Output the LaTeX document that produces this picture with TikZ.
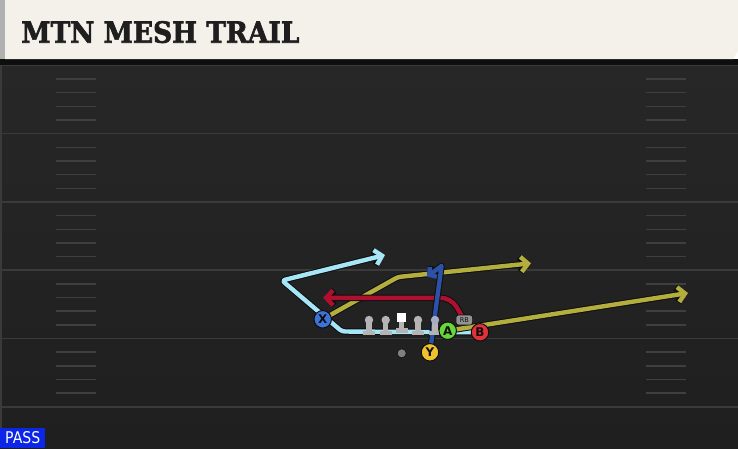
\documentclass[tikz,border=0pt]{standalone}
\usepackage{fontspec}
\usepackage{graphicx}
\usetikzlibrary{arrows.meta}
\newfontfamily\titlefont{DejaVu Serif Bold}[FakeBold=2.2]
\newfontfamily\lblfont{DejaVu Sans}
\definecolor{cream}{HTML}{F4F1EA}
\definecolor{fieldtop}{HTML}{272727}
\definecolor{fieldbot}{HTML}{1F1F1F}
\definecolor{yardc}{HTML}{3A3A3A}
\definecolor{hashc}{HTML}{3F3F3F}
\definecolor{ltblue}{HTML}{A6E6F7}
\definecolor{olive}{HTML}{B3AE3E}
\definecolor{crim}{HTML}{AE1030}
\definecolor{rblue}{HTML}{2C52A8}
\definecolor{outl}{HTML}{0E0E0E}
\definecolor{xblue}{HTML}{3D72D9}
\definecolor{agreen}{HTML}{66D63A}
\definecolor{bred}{HTML}{E23238}
\definecolor{yyel}{HTML}{EFC12A}
\definecolor{lgrey}{HTML}{B4B4B4}
\definecolor{hdrgrey}{HTML}{B0B0B0}
\definecolor{passblue}{HTML}{0B26E6}
\definecolor{titlec}{HTML}{1E1E1E}
\tikzset{
  routeout/.style={draw=outl, line width=6.4pt, line join=round, line cap=round},
  routein/.style={line width=4.4pt, line join=round, line cap=round},
  tipped/.style={-{Straight Barb[length=7pt,width=15pt]}},
  player/.style={circle, draw=outl, line width=1pt, minimum size=17.5pt, inner sep=0pt,
    font=\lblfont\bfseries\fontsize{12}{12}\selectfont, text=outl},
}
\begin{document}
\begin{tikzpicture}[x=1pt,y=-1pt]
\useasboundingbox (0,0) rectangle (738,448);
% field
\shade[top color=fieldtop, bottom color=fieldbot] (0,64) rectangle (738,448);
\fill[yardc] (0,64) rectangle (2,448);
\foreach \k in {0,...,5} {
  \draw[yardc, line width=1.6pt] (2,{65.3+68.3*\k}) -- (738,{65.3+68.3*\k});
}
\foreach \k in {0,...,4} {
  \foreach \j in {1,...,4} {
    \draw[hashc, line width=1.4pt] (56,{65.3+68.3*\k+13.66*\j}) -- (96,{65.3+68.3*\k+13.66*\j});
    \draw[hashc, line width=1.4pt] (646,{65.3+68.3*\k+13.66*\j}) -- (686,{65.3+68.3*\k+13.66*\j});
  }
}
% header
\fill[outl] (0,59) rectangle (738,64.5);
\fill[hdrgrey] (0,0) rectangle (5,59);
\fill[cream] (5,0) -- (738,0) -- (738,51) -- (733,59) -- (5,59) -- cycle;
\node[anchor=south west, inner sep=0pt, text=titlec] (title) at (21.2,43.3)
  {\resizebox{278pt}{21.6pt}{\titlefont MTN MESH TRAIL}};
% player positions
\coordinate (pX) at (322.7,319.3);
\coordinate (pA) at (447.7,330.7);
\coordinate (pB) at (480,332.3);
\coordinate (pY) at (430,352.3);
\coordinate (pRB) at (464.3,320);
% route waypoints
\coordinate (lb1) at (342,331.5);
\coordinate (lb2) at (282,280.5);
\coordinate (lbEnd) at (385,255);
\coordinate (ol1) at (398,277);
\coordinate (olEnd) at (531,263.3);
\coordinate (olBEnd) at (688,293);
\coordinate (rd1) at (451,297.8);
\coordinate (rdEnd) at (323,297.8);
\coordinate (bl1) at (441.5,266);
\coordinate (blEnd) at (427,276.5);
% light blue route
\draw[routeout, tipped, rounded corners=3pt] (pB) -- (lb1) -- (lb2) -- (lbEnd);
\draw[routein, ltblue, tipped, rounded corners=3pt] (pB) -- (lb1) -- (lb2) -- (lbEnd);
% olive routes
\draw[routeout, tipped, rounded corners=3pt] (pX) -- (ol1) -- (olEnd);
\draw[routein, olive, tipped, rounded corners=3pt] (pX) -- (ol1) -- (olEnd);
\draw[routeout, tipped] (pA) -- (olBEnd);
\draw[routein, olive, tipped] (pA) -- (olBEnd);
% red route
\draw[routeout, tipped, rounded corners=10pt] (pRB) -- (rd1) -- (rdEnd);
\draw[routein, crim, tipped, rounded corners=10pt] (pRB) -- (rd1) -- (rdEnd);
% blue route
\draw[routeout, -{Straight Barb[length=5pt,width=12pt]}] (pY) -- (bl1) -- (blEnd);
\draw[routein, rblue, -{Straight Barb[length=5pt,width=12pt]}] (pY) -- (bl1) -- (blEnd);
% linemen
\foreach \x in {369, 385.7, 418, 435} {
  \fill[lgrey] (\x-6,330.5) rectangle (\x+6,335);
  \fill[lgrey] (\x-2.6,322) rectangle (\x+2.6,331);
}
\foreach \x in {369, 385.7, 418} {
  \fill[lgrey] (\x,320) circle (4.2);
}
\fill[lgrey!60!rblue!70!white] (435,320) circle (4.2);
\fill[lgrey] (401.7-6,328.3) rectangle (401.7+6,332.8);
\fill[lgrey] (401.7-2.6,321) rectangle (401.7+2.6,329);
\fill[white] (397.4,313.2) rectangle (406,321.8);
% grey dot
\fill[gray, draw=outl, line width=0.6pt] (401.7,353.3) circle (4.5);
% players
\node[player, fill=xblue] (X) at (pX) {X};
\node[player, fill=agreen] (A) at (pA) {A};
\node[player, fill=bred] (B) at (pB) {B};
\node[player, fill=yyel] (Y) at (pY) {Y};
\node[fill=gray!85, draw=outl, line width=0.6pt, rounded corners=2.5pt, minimum width=16.5pt,
  minimum height=10pt, inner sep=0pt, font=\lblfont\fontsize{6.5}{6.5}\selectfont, text=outl] (RB) at (pRB) {RB};
% pass label
\node[fill=passblue, anchor=south west, minimum width=45pt, minimum height=20pt, inner sep=0pt, text=white]
  (pass) at (0,448) {\resizebox{35pt}{12pt}{\lblfont PASS}};
\end{tikzpicture}
\end{document}
